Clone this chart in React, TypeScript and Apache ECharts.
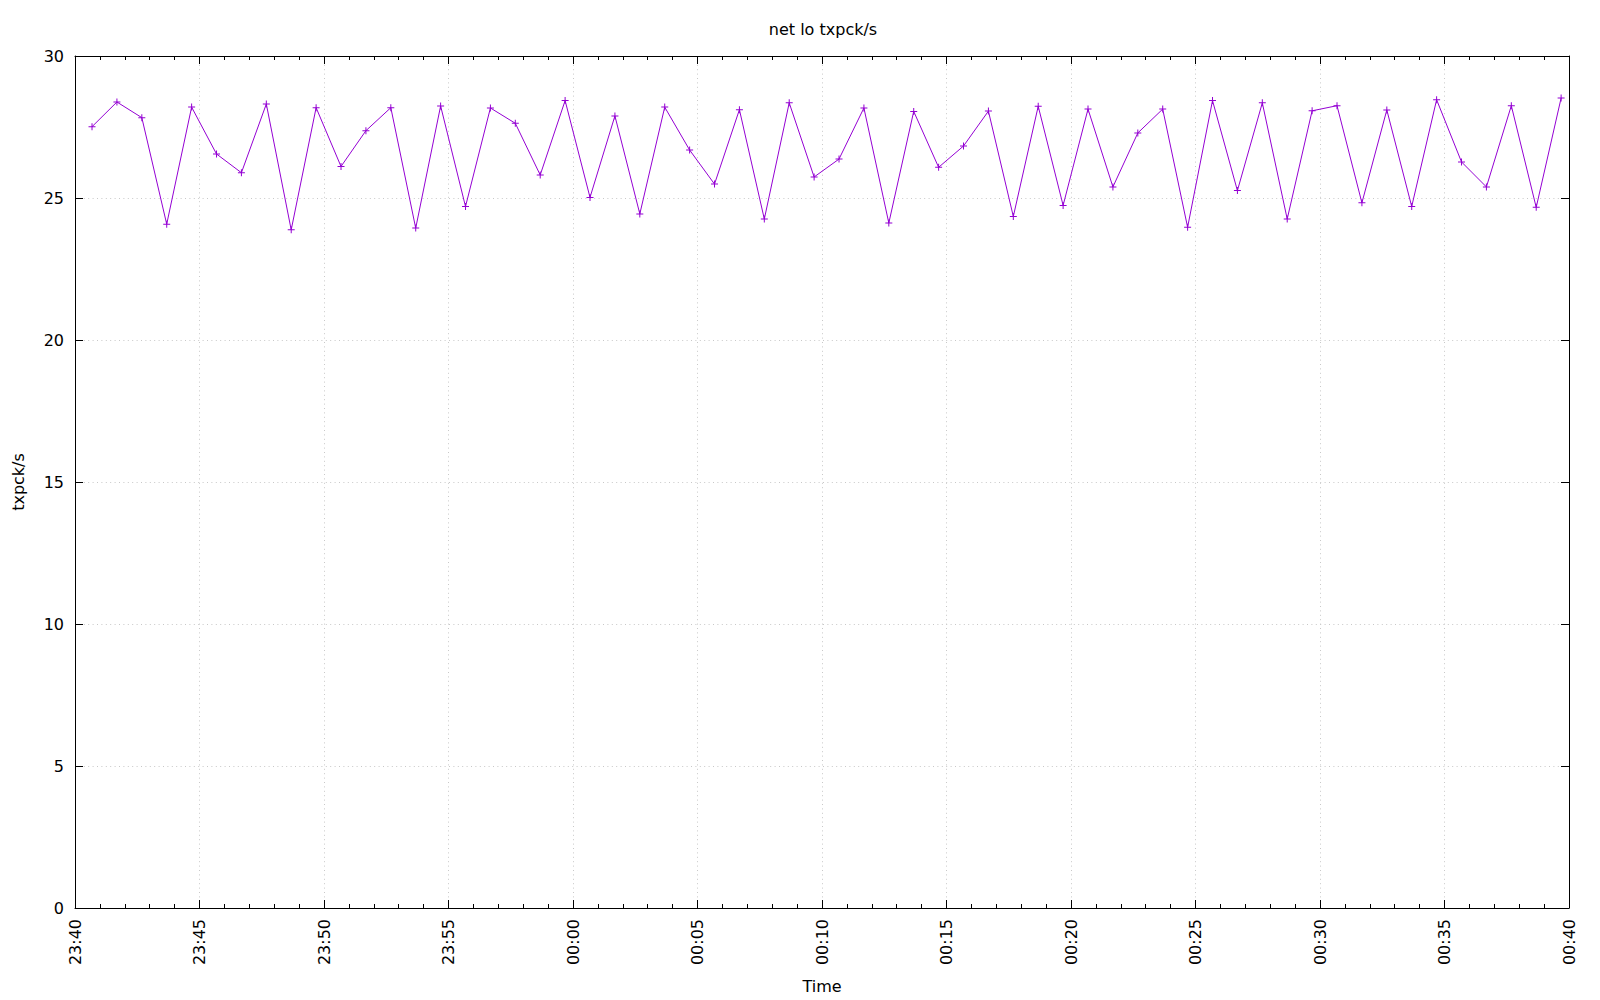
import React, { useEffect, useRef } from "react";
import * as echarts from "echarts";

const times: string[] = [
  "23:40:41", "23:41:41", "23:42:41", "23:43:41", "23:44:41", "23:45:41", "23:46:41", "23:47:41", "23:48:41", "23:49:41",
  "23:50:41", "23:51:41", "23:52:41", "23:53:41", "23:54:41", "23:55:41", "23:56:41", "23:57:41", "23:58:41", "23:59:41",
  "00:00:41", "00:01:41", "00:02:41", "00:03:41", "00:04:41", "00:05:41", "00:06:41", "00:07:41", "00:08:41", "00:09:41",
  "00:10:41", "00:11:41", "00:12:41", "00:13:41", "00:14:41", "00:15:41", "00:16:41", "00:17:41", "00:18:41", "00:19:41",
  "00:20:41", "00:21:41", "00:22:41", "00:23:41", "00:24:41", "00:25:41", "00:26:41", "00:27:41", "00:28:41", "00:29:41",
  "00:30:41", "00:31:41", "00:32:41", "00:33:41", "00:34:41", "00:35:41", "00:36:41", "00:37:41", "00:38:41", "00:39:41",
];

const txpck: number[] = [
  27.51, 28.38, 27.83, 24.08, 28.20, 26.55, 25.89, 28.31, 23.88, 28.18,
  26.11, 27.37, 28.18, 23.94, 28.24, 24.70, 28.17, 27.63, 25.81, 28.43,
  25.02, 27.89, 24.44, 28.20, 26.69, 25.49, 28.11, 24.26, 28.35, 25.74,
  26.37, 28.17, 24.12, 28.05, 26.08, 26.83, 28.06, 24.35, 28.23, 24.74,
  28.13, 25.39, 27.29, 28.13, 23.97, 28.43, 25.26, 28.35, 24.26, 28.07,
  28.25, 24.83, 28.10, 24.70, 28.46, 26.27, 25.39, 28.25, 24.67, 28.52,
];

const title = "net lo txpck/s";
const yName = "txpck/s";
const xName = "Time";
const startLabel = "23:40";

function toMinutes(t: string): number {
  const [h, m, s] = t.split(":").map(Number);
  const [sh, sm] = startLabel.split(":").map(Number);
  let total = h * 60 + m + (s || 0) / 60;
  const start = sh * 60 + sm;
  if (total < start) total += 24 * 60;
  return total - start;
}

function fmt(v: number): string {
  const [sh, sm] = startLabel.split(":").map(Number);
  let total = Math.round(sh * 60 + sm + v) % (24 * 60);
  const h = Math.floor(total / 60);
  const m = total % 60;
  return String(h).padStart(2, "0") + ":" + String(m).padStart(2, "0");
}

const FONT = "DejaVu Sans";
const FS = 16;
const PLUS = "path://M3,0 L4,0 L4,3 L7,3 L7,4 L4,4 L4,7 L3,7 L3,4 L0,4 L0,3 L3,3 Z";

export default function App() {
  const ref = useRef<HTMLDivElement>(null);
  useEffect(() => {
    if (!ref.current) return;
    const chart = echarts.init(ref.current, undefined, { renderer: "svg" });
    const axisLine = { show: true, onZero: false, lineStyle: { color: "#000", width: 1 } };
    const grid = { show: true, lineStyle: { color: "#c8c8c8", width: 1, type: [1, 3.4] as any } };
    chart.setOption({
      animation: false,
      backgroundColor: "#fff",
      textStyle: { fontFamily: FONT },
      title: {
        text: title,
        left: 818,
        textAlign: "center",
        top: 16,
        textStyle: { fontFamily: FONT, fontSize: FS, fontWeight: "normal", color: "#000" },
      },
      grid: { left: 75, right: 31, top: 56, bottom: 92, containLabel: false },
      xAxis: [
        {
          type: "value",
          min: 0,
          max: 60,
          interval: 5,
          name: xName,
          nameLocation: "middle",
          nameGap: 70,
          nameTextStyle: { fontFamily: FONT, fontSize: FS, color: "#000" },
          axisLine,
          axisTick: { show: true, inside: true, length: 8, lineStyle: { color: "#000" } },
          minorTick: { show: true, splitNumber: 5, length: 4, lineStyle: { color: "#000" } },
          axisLabel: {
            rotate: 90,
            margin: 11,
            fontFamily: FONT,
            fontSize: FS,
            color: "#000",
            formatter: (v: number) => fmt(v),
          },
          splitLine: grid,
        },
        {
          type: "value",
          position: "top",
          min: 0,
          max: 60,
          interval: 5,
          axisLine,
          axisTick: { show: true, inside: true, length: 8, lineStyle: { color: "#000" } },
          minorTick: { show: true, splitNumber: 5, length: 4, lineStyle: { color: "#000" } },
          axisLabel: { show: false },
          splitLine: { show: false },
        },
      ],
      yAxis: [
        {
          type: "value",
          min: 0,
          max: 30,
          interval: 5,
          name: yName,
          nameLocation: "middle",
          nameGap: 49,
          nameRotate: 90,
          nameTextStyle: { fontFamily: FONT, fontSize: FS, color: "#000" },
          axisLine,
          axisTick: { show: true, inside: true, length: 8, lineStyle: { color: "#000" } },
          axisLabel: { margin: 11, fontFamily: FONT, fontSize: FS, color: "#000" },
          splitLine: grid,
        },
        {
          type: "value",
          position: "right",
          min: 0,
          max: 30,
          interval: 5,
          axisLine,
          axisTick: { show: true, inside: true, length: 8, lineStyle: { color: "#000" } },
          axisLabel: { show: false },
          splitLine: { show: false },
        },
      ],
      series: [
        {
          type: "line",
          xAxisIndex: 0,
          yAxisIndex: 0,
          data: times.map((t, i) => [toMinutes(t), txpck[i]]),
          symbol: PLUS,
          symbolSize: 7,
          showSymbol: true,
          lineStyle: { color: "#9400d3", width: 1 },
          itemStyle: { color: "#9400d3", borderWidth: 0 },
        },
      ],
    });
    return () => chart.dispose();
  }, []);
  return (
    <div
      ref={ref}
      style={{ position: "fixed", left: 0, top: 0, width: 1600, height: 1000, background: "#fff" }}
    />
  );
}
